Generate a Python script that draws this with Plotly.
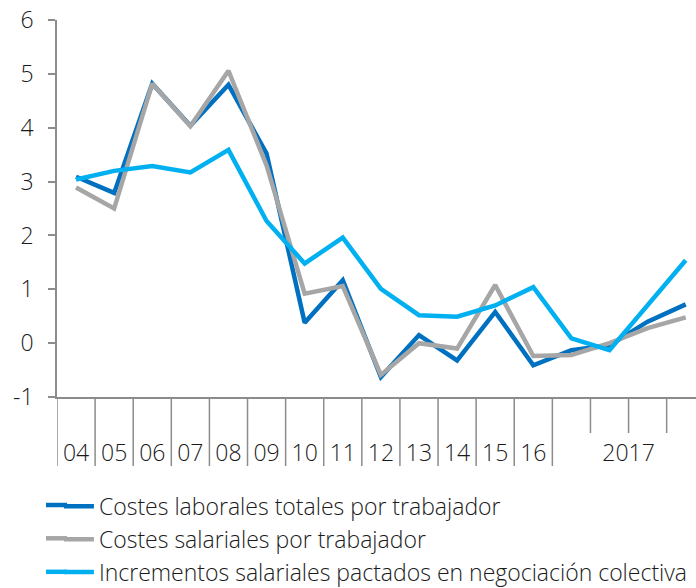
import plotly.graph_objects as go

periods = ["2004", "2005", "2006", "2007", "2008", "2009", "2010", "2011", "2012", "2013",
           "2014", "2015", "2016", "2017-T1", "2017-T2", "2017-T3", "2017-T4"]
tick_labels = ["04", "05", "06", "07", "08", "09", "10", "11", "12", "13", "14", "15", "16", "2017"]
y_ticks = [-1, 0, 1, 2, 3, 4, 5, 6]

costes_laborales = [3.09, 2.79, 4.82, 4.04, 4.80, 3.52, 0.38, 1.17, -0.63, 0.15, -0.32, 0.58, -0.41,
                    -0.13, -0.04, 0.40, 0.72]
costes_salariales = [2.89, 2.50, 4.82, 4.03, 5.06, 3.30, 0.92, 1.06, -0.59, 0.00, -0.10, 1.08, -0.24,
                     -0.22, 0.00, 0.28, 0.48]
incrementos_pactados = [3.04, 3.20, 3.29, 3.17, 3.59, 2.27, 1.48, 1.96, 1.01, 0.52, 0.49, 0.70, 1.04,
                        0.09, -0.13, 0.70, 1.54]

names = ["Costes laborales totales por trabajador",
         "Costes salariales por trabajador",
         "Incrementos salariales pactados en negociación colectiva"]
colors = ["#0070C0", "#A6A6A6", "#00B0F0"]

FONT = "Open Sans"
axis_col = "#8C8C8C"
text_col = "#1A1A1A"

fig = go.Figure()
for name, vals, col in zip(names, [costes_laborales, costes_salariales, incrementos_pactados], colors):
    fig.add_trace(go.Scatter(x=periods, y=vals, mode="lines", name=name,
                             line=dict(color=col, width=4.5)))

n_years = 13
shapes = []
for k in range(n_years + 1):
    shapes.append(dict(type="line", xref="x", yref="paper", x0=k - 0.5, x1=k - 0.5,
                       y0=0, y1=-69 / 377, line=dict(color=axis_col, width=1.5)))
for k in range(n_years + 1, len(periods)):
    shapes.append(dict(type="line", xref="x", yref="paper", x0=k - 0.5, x1=k - 0.5,
                       y0=0, y1=-36 / 377, line=dict(color=axis_col, width=1.5)))
# longer legend keys (extend plotly's fixed 30px sample to the left)
for col, ly in zip(colors, [-0.2865, -0.3748, -0.4637]):
    shapes.append(dict(type="line", xref="paper", yref="paper", x0=-0.0172, x1=0.0157,
                       y0=ly, y1=ly, line=dict(color=col, width=4.5)))

fig.update_layout(
    width=696, height=588,
    margin=dict(l=57, r=0, t=20, b=191, autoexpand=False),
    paper_bgcolor="white", plot_bgcolor="white",
    font=dict(family=FONT, size=23, color=text_col, weight=300),
    shapes=shapes,
    showlegend=True,
    legend=dict(x=0.003, y=-0.233, xanchor="left", yanchor="top",
                font=dict(family=FONT, size=23, color=text_col, weight=300),
                tracegroupgap=0, itemwidth=30, bgcolor="rgba(0,0,0,0)"),
    xaxis=dict(type="category", range=[-0.5, 16.27], showgrid=False, zeroline=False,
               showline=True, linecolor=axis_col, linewidth=1.5,
               tickmode="array", tickvals=list(range(n_years)) + [14.5], ticktext=tick_labels,
               ticks="", ticklabelstandoff=35,
               tickfont=dict(family=FONT, size=23, color=text_col, weight=300)),
    yaxis=dict(range=[-1, 6.002], tickmode="array", tickvals=y_ticks,
               ticktext=[str(v) if v >= 0 else "-" + str(-v) for v in y_ticks],
               showgrid=False, zeroline=False,
               showline=True, linecolor=axis_col, linewidth=1.5,
               ticks="outside", ticklen=7, tickwidth=1.5, tickcolor=axis_col,
               ticklabelstandoff=10,
               tickfont=dict(family=FONT, size=23, color=text_col, weight=300)),
)

fig.write_html("out.html", config={"displayModeBar": False},
               post_script="document.body.style.margin='0';")
